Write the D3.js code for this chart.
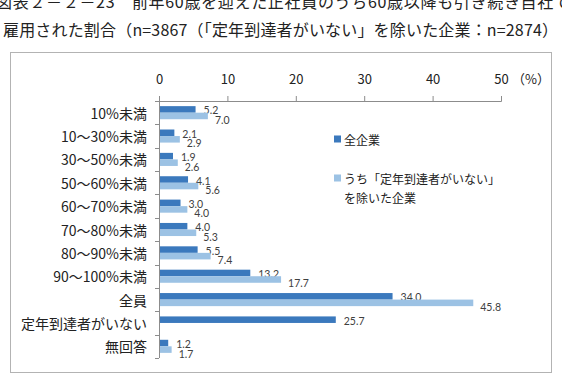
<!DOCTYPE html>
<html lang="ja">
<head>
<meta charset="UTF-8">
<title>前年60歳を迎えた正社員のうち60歳以降も引き続き自社で雇用された割合</title>
<script src="https://d3js.org/d3.v7.min.js"></script>
<style>
    body { margin: 0; background: #fff; }
    svg { display: block; font-family: "Noto Sans CJK JP", sans-serif; }
    .val { font-family: Lato, "Open Sans", sans-serif; font-size: 10.5px; fill: #404040; }
</style>
</head>
<body>
<div id="chart"></div>
<script>
// data
const categories = ["10%未満", "10～30%未満", "30～50%未満", "50～60%未満", "60～70%未満",
    "70～80%未満", "80～90%未満", "90～100%未満", "全員", "定年到達者がいない", "無回答"];
const allCompanies = [5.2, 2.1, 1.9, 4.1, 3.0, 4.0, 5.5, 13.2, 34.0, 25.7, 1.2];
const excluding = [7.0, 2.9, 2.6, 5.6, 4.0, 5.3, 7.4, 17.7, 45.8, null, 1.7];
const seriesNames = ["全企業", "うち「定年到達者がいない」を除いた企業"];
const xTicks = [0, 10, 20, 30, 40, 50];

const width = 562, height = 379;
const darkColor = "#3b79bd", lightColor = "#9cc2e4";

const svg = d3.select("#chart").append("svg")
    .attr("width", width)
    .attr("height", height);

// title (first line is cut off at the top in the original)
svg.append("text")
    .attr("x", -4).attr("y", 1)
    .attr("dominant-baseline", "central")
    .attr("font-size", 16).attr("fill", "#222")
    .attr("textLength", 574).attr("lengthAdjust", "spacing")
    .text("図表２－２－23　前年60歳を迎えた正社員のうち60歳以降も引き続き自社で");
svg.append("text")
    .attr("x", 3).attr("y", 29)
    .attr("dominant-baseline", "central")
    .attr("font-size", 16).attr("fill", "#222")
    .attr("textLength", 555).attr("lengthAdjust", "spacing")
    .text("雇用された割合（n=3867（「定年到達者がいない」を除いた企業：n=2874）");

// chart frame
svg.append("rect")
    .attr("x", 10.5).attr("y", 52.5)
    .attr("width", 541).attr("height", 320)
    .attr("fill", "none").attr("stroke", "#b3b3b3");

const x = d3.scaleLinear().domain([0, 50]).range([159, 501]);
const y = d3.scaleBand().domain(categories).range([101, 358])
    .paddingInner(0.44).paddingOuter(0.22);
const sub = d3.scaleBand().domain([0, 1]).range([0, y.bandwidth()]);

// top axis
const xAxis = d3.axisTop(x).tickValues(xTicks).tickSize(5).tickPadding(12);
const gx = svg.append("g").attr("transform", "translate(0,101)").call(xAxis);
gx.selectAll("path, line").attr("stroke", "#8c8c8c");
gx.selectAll("text").attr("font-size", 13).attr("fill", "#222")
    .attr("font-family", "\"Noto Sans CJK JP\", sans-serif");
svg.append("text")
    .attr("x", 512).attr("y", 78)
    .attr("dominant-baseline", "central")
    .attr("font-size", 13).attr("fill", "#222")
    .text("（%）");

// left axis: line plus ticks between categories
const step = y.step();
const y0 = y.range()[0];
svg.append("line")
    .attr("x1", x(0) + 0.5).attr("x2", x(0) + 0.5)
    .attr("y1", y0).attr("y2", y.range()[1])
    .attr("stroke", "#8c8c8c");
svg.append("g").selectAll("line")
    .data(d3.range(categories.length + 1))
    .join("line")
    .attr("x1", x(0) - 4).attr("x2", x(0))
    .attr("y1", i => Math.round(y0 + i * step) + 0.5)
    .attr("y2", i => Math.round(y0 + i * step) + 0.5)
    .attr("stroke", "#8c8c8c");

svg.append("g").selectAll("text")
    .data(categories)
    .join("text")
    .attr("x", 147)
    .attr("y", d => y(d) + y.bandwidth() / 2)
    .attr("text-anchor", "end")
    .attr("dominant-baseline", "central")
    .attr("font-size", 14).attr("fill", "#222")
    .text(d => d);

// bars
const series = [allCompanies, excluding];
const colors = [darkColor, lightColor];
series.forEach((vals, s) => {
    const rows = categories.map((c, i) => ({ c, v: vals[i] })).filter(d => d.v != null);
    const g = svg.append("g");
    g.selectAll("rect")
        .data(rows)
        .join("rect")
        .attr("x", x(0) + 1)
        .attr("y", d => y(d.c) + sub(s))
        .attr("width", d => x(d.v) - x(0))
        .attr("height", sub.bandwidth())
        .attr("fill", colors[s]);
    g.selectAll("text")
        .data(rows)
        .join("text")
        .attr("class", "val")
        .attr("x", d => x(d.v) + (s === 0 ? 9 : 8))
        .attr("y", d => y(d.c) + sub(s) + sub.bandwidth() / 2 + (s === 0 ? 1 : 4))
        .attr("dominant-baseline", "central")
        .text(d => d3.format(".1f")(d.v));
});

// legend
const legend = svg.append("g");
const legendY = [139, 178];
legendY.forEach((ly, i) => {
    legend.append("rect")
        .attr("x", 334).attr("y", ly - 3.5)
        .attr("width", 7).attr("height", 7)
        .attr("fill", colors[i]);
});
legend.append("text")
    .attr("x", 344).attr("y", legendY[0])
    .attr("dominant-baseline", "central")
    .attr("font-size", 12).attr("fill", "#222")
    .text(seriesNames[0]);
legend.append("text")
    .attr("x", 344).attr("y", legendY[1])
    .attr("dominant-baseline", "central")
    .attr("font-size", 12).attr("fill", "#222")
    .text("うち「定年到達者がいない」");
legend.append("text")
    .attr("x", 344).attr("y", legendY[1] + 19)
    .attr("dominant-baseline", "central")
    .attr("font-size", 12).attr("fill", "#222")
    .text("を除いた企業");
</script>
</body>
</html>
